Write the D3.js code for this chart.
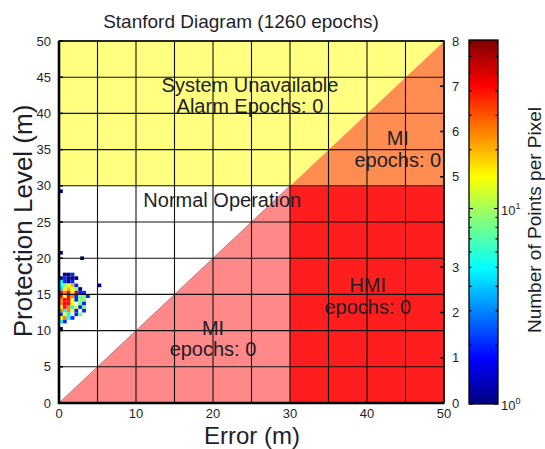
<!DOCTYPE html>
<html>
<head>
<style>
body { margin: 0; background: #fff; }
text { font-family: "Liberation Sans", Arial, sans-serif; fill: #1e1e28; }
</style>
</head>
<body>
<script src="https://d3js.org/d3.v7.min.js"></script>
<script>

const width = 545;
const height = 449;

// axes
const maxVal = 50;
const alarmLimit = 30;
const gridValues = d3.range(0, 51, 5);
const errTicks = [0, 10, 20, 30, 40, 50];
const plTicks = d3.range(0, 51, 5);
const rightTicks = [0, 1, 2, 3, 4, 5, 6, 7, 8];
const rightLabels = [0, 1, 2, 3, 5, 6, 7, 8];

// 2D histogram, bins of 0.5 m; each row starts at error 0
const binSize = 0.5;
const rowPL = [17.5, 17, 16.5, 16, 15.5, 15, 14.5, 14, 13.5, 13, 12.5, 12, 11.5, 11, 10];
const rowCounts = [
  [0, 1, 1, 2, 0, 0, 0, 0],
  [1, 2, 1, 1, 1, 0, 0, 0],
  [5, 2, 1, 2, 0, 0, 0, 0],
  [5, 9, 14, 20, 2, 0, 0, 0],
  [4, 14, 20, 14, 9, 1, 0, 0],
  [42, 25, 42, 14, 42, 2, 2, 0],
  [42, 14, 42, 25, 2, 8, 8, 2],
  [25, 42, 42, 14, 2, 9, 9, 0],
  [25, 42, 42, 14, 0, 8, 2, 0],
  [14, 42, 25, 5, 14, 2, 8, 0],
  [25, 5, 25, 14, 2, 0, 2, 0],
  [2, 14, 5, 0, 2, 8, 0, 0],
  [14, 25, 5, 2, 0, 0, 0, 0],
  [5, 2, 0, 0, 0, 0, 0, 0],
  [1, 0, 0, 0, 0, 0, 0, 0]
];
// isolated bins
const loneErr = [0, 0, 2.75, 5];
const lonePL = [29, 20.5, 19.75, 16];
const loneCount = [1, 1, 1, 1];

// colour bar
const countMax = 72.8;
const cbarTicks = [1, 10];
const cbarMinor = [2, 3, 4, 5, 6, 7, 8, 9, 20, 30, 40, 50, 60, 70];

const regionColors = {
  unavailable: '#ffff80',
  miUpper: '#ff8c50',
  hmi: '#ff1e1e',
  miLower: '#ff8888',
  normal: '#ffffff'
};

const svg = d3.select('body').append('svg')
  .attr('width', width)
  .attr('height', height);

const x = d3.scaleLinear().domain([0, maxVal]).range([59, 444]);
const y = d3.scaleLinear().domain([0, maxVal]).range([403, 41]);
const yRight = d3.scaleLinear().domain([0, 8]).range([403, 41]);
const yBar = d3.scaleLog().domain([1, countMax]).range([404, 40]);

const jet = t => {
  const c = v => Math.round(255 * Math.max(0, Math.min(1, v)));
  return `rgb(${c(1.5 - Math.abs(4 * t - 3))},${c(1.5 - Math.abs(4 * t - 2))},${c(1.5 - Math.abs(4 * t - 1))})`;
};
const colorOf = n => jet(Math.log10(n) / Math.log10(countMax));

// regions
const L = alarmLimit, M = maxVal;
const regions = [
  { fill: regionColors.normal, pts: [[0, 0], [L, L], [0, L]] },
  { fill: regionColors.miLower, pts: [[0, 0], [L, 0], [L, L]] },
  { fill: regionColors.hmi, pts: [[L, 0], [M, 0], [M, L], [L, L]] },
  { fill: regionColors.miUpper, pts: [[L, L], [M, L], [M, M]] },
  { fill: regionColors.unavailable, pts: [[0, L], [L, L], [M, M], [0, M]] }
];
svg.append('g').selectAll('path')
  .data(regions)
  .enter().append('path')
  .attr('d', r => d3.line().x(p => x(p[0])).y(p => y(p[1]))(r.pts) + 'Z')
  .attr('fill', r => r.fill)
  .attr('stroke', r => r.fill)
  .attr('stroke-width', 0.5);

svg.append('line')
  .attr('x1', x(0)).attr('y1', y(0))
  .attr('x2', x(L)).attr('y2', y(L))
  .attr('stroke', '#777').attr('stroke-width', 0.6);

// histogram cells
const cells = [];
rowPL.forEach((pl, j) => {
  rowCounts[j].forEach((n, i) => {
    if (n > 0) cells.push({ err: i * binSize, pl: pl, n: n });
  });
});
loneErr.forEach((e, i) => cells.push({ err: e, pl: lonePL[i], n: loneCount[i] }));

svg.append('g').selectAll('rect')
  .data(cells)
  .enter().append('rect')
  .attr('x', d => x(d.err))
  .attr('y', d => y(d.pl + binSize))
  .attr('width', x(binSize) - x(0))
  .attr('height', y(0) - y(binSize))
  .attr('fill', d => colorOf(d.n));

// grid
const grid = svg.append('g').attr('stroke', '#111').attr('stroke-width', 1.1);
grid.selectAll('.gx').data(gridValues).enter().append('line')
  .attr('x1', d => x(d)).attr('x2', d => x(d))
  .attr('y1', y(0)).attr('y2', y(maxVal));
grid.selectAll('.gy').data(gridValues).enter().append('line')
  .attr('y1', d => y(d)).attr('y2', d => y(d))
  .attr('x1', x(0)).attr('x2', x(maxVal));

// frame
svg.append('rect')
  .attr('x', x(0)).attr('y', y(maxVal))
  .attr('width', x(maxVal) - x(0)).attr('height', y(0) - y(maxVal))
  .attr('fill', 'none').attr('stroke', '#000').attr('stroke-width', 1.4);
svg.append('path')
  .attr('d', `M${x(0)},${y(maxVal)}V${y(0)}H${x(maxVal)}`)
  .attr('fill', 'none').attr('stroke', '#000').attr('stroke-width', 2.6);

// ticks
svg.append('g').selectAll('line').data(plTicks).enter().append('line')
  .attr('x1', x(0)).attr('x2', x(0) + 4)
  .attr('y1', d => y(d)).attr('y2', d => y(d))
  .attr('stroke', '#000').attr('stroke-width', 1.5);
svg.append('g').selectAll('line').data(rightTicks).enter().append('line')
  .attr('x1', x(maxVal)).attr('x2', x(maxVal) - 4)
  .attr('y1', d => yRight(d)).attr('y2', d => yRight(d))
  .attr('stroke', '#000').attr('stroke-width', 1.5);

// tick labels
svg.append('g').selectAll('text').data(plTicks).enter().append('text')
  .attr('x', 51).attr('y', d => y(d) + 4.5)
  .attr('text-anchor', 'end').attr('font-size', 13)
  .text(d => d);
svg.append('g').selectAll('text').data(errTicks).enter().append('text')
  .attr('x', d => x(d)).attr('y', 418)
  .attr('text-anchor', 'middle').attr('font-size', 13)
  .text(d => d);
svg.append('g').selectAll('text').data(rightLabels).enter().append('text')
  .attr('x', 452).attr('y', d => yRight(d) + 4.5)
  .attr('font-size', 13)
  .text(d => d);

// region labels
const labels = [
  { err: 24.8, pl: 43, lines: ['System Unavailable', 'Alarm Epochs: 0'] },
  { err: 44, pl: 35.6, lines: ['MI', 'epochs: 0'] },
  { err: 21.2, pl: 27.1, lines: ['Normal Operation'] },
  { err: 40.1, pl: 15.3, lines: ['HMI', 'epochs: 0'] },
  { err: 20, pl: 9.4, lines: ['MI', 'epochs: 0'] }
];
labels.forEach(lb => {
  const t = svg.append('text')
    .attr('x', x(lb.err)).attr('y', y(lb.pl))
    .attr('text-anchor', 'middle').attr('font-size', 20);
  lb.lines.forEach((s, i) => {
    t.append('tspan').attr('x', x(lb.err)).attr('dy', i === 0 ? 0 : 21.5).text(s);
  });
});

// titles
svg.append('text').attr('x', 241).attr('y', 28)
  .attr('text-anchor', 'middle').attr('font-size', 19)
  .text('Stanford Diagram (1260 epochs)');
svg.append('text').attr('x', 252).attr('y', 444)
  .attr('text-anchor', 'middle').attr('font-size', 24)
  .text('Error (m)');
svg.append('text').attr('transform', 'translate(32,221) rotate(-90)')
  .attr('text-anchor', 'middle').attr('font-size', 26)
  .text('Protection Level (m)');

// colour bar
const cbX = 469, cbW = 29;
const grad = svg.append('defs').append('linearGradient')
  .attr('id', 'jet').attr('x1', 0).attr('y1', 1).attr('x2', 0).attr('y2', 0);
d3.range(0, 1.0001, 1 / 64).forEach(t => {
  grad.append('stop').attr('offset', t).attr('stop-color', jet(t));
});
svg.append('rect')
  .attr('x', cbX).attr('y', yBar(countMax))
  .attr('width', cbW).attr('height', yBar(1) - yBar(countMax))
  .attr('fill', 'url(#jet)').attr('stroke', '#000').attr('stroke-width', 1.3);

const cbT = svg.append('g').attr('stroke', '#000').attr('stroke-width', 1.2);
cbarMinor.forEach(v => {
  cbT.append('line').attr('x1', cbX).attr('x2', cbX + 2.5).attr('y1', yBar(v)).attr('y2', yBar(v));
  cbT.append('line').attr('x1', cbX + cbW).attr('x2', cbX + cbW - 2.5).attr('y1', yBar(v)).attr('y2', yBar(v));
});
cbarTicks.forEach(v => {
  cbT.append('line').attr('x1', cbX).attr('x2', cbX + 4).attr('y1', yBar(v)).attr('y2', yBar(v));
  cbT.append('line').attr('x1', cbX + cbW).attr('x2', cbX + cbW - 4).attr('y1', yBar(v)).attr('y2', yBar(v));
});
cbarTicks.forEach(v => {
  const t = svg.append('text').attr('x', cbX + cbW + 3).attr('y', yBar(v) + 6).attr('font-size', 13);
  t.append('tspan').text('10');
  t.append('tspan').attr('dy', -6).attr('font-size', 9).text(Math.round(Math.log10(v)));
});
svg.append('text').attr('transform', 'translate(541,220) rotate(-90)')
  .attr('text-anchor', 'middle').attr('font-size', 19)
  .text('Number of Points per Pixel');

</script>
</body>
</html>
